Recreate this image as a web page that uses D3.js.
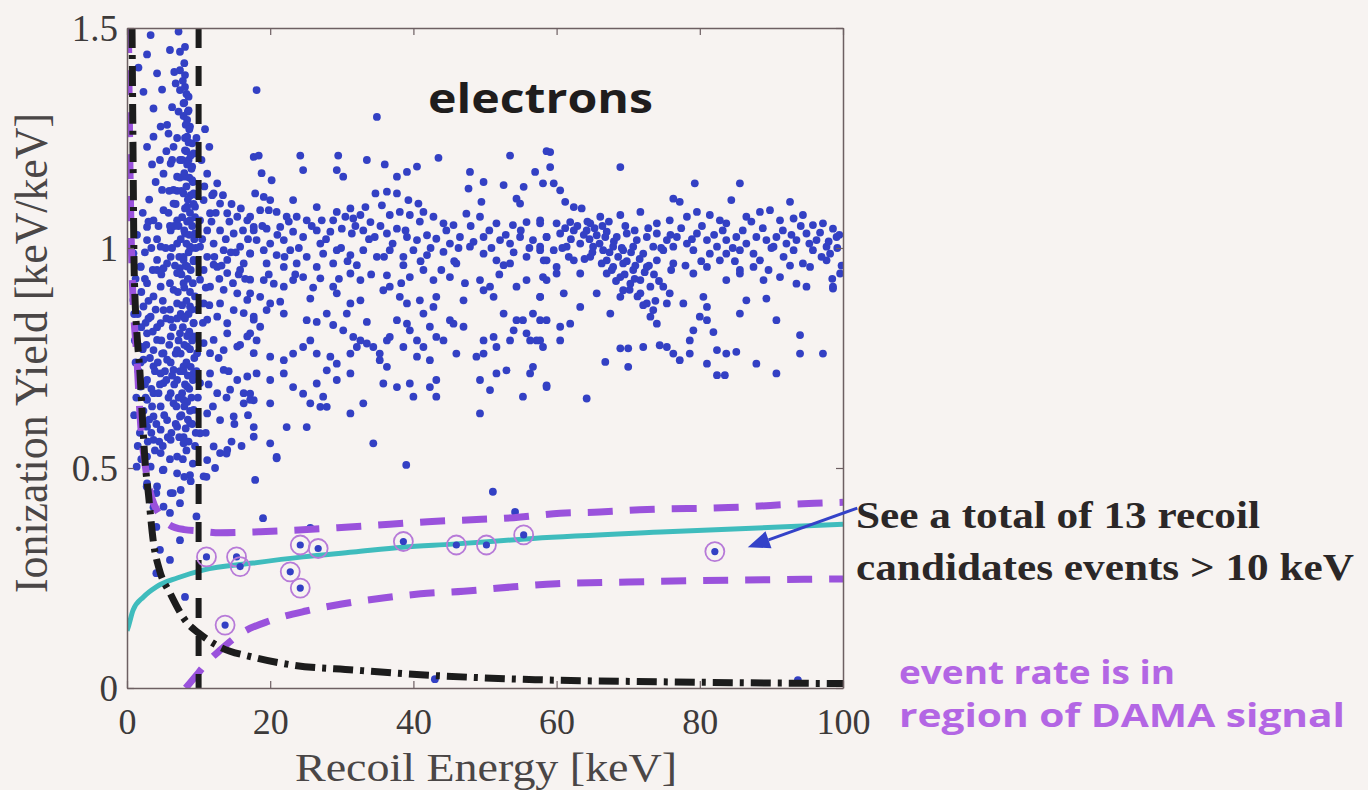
<!DOCTYPE html>
<html>
<head>
<meta charset="utf-8">
<script src="https://cdn.jsdelivr.net/npm/d3@7"></script>
<style>
  html, body { margin: 0; padding: 0; background: #f7f3f1; }
  svg { display: block; }
</style>
</head>
<body>
<svg id="chart" width="1368" height="790"></svg>
<script>
// ---- axis ticks ----
const xTicks = [0, 20, 40, 60, 80, 100];
const xTickLabels = ["0", "20", "40", "60", "80", "100"];
const yTicks = [0, 0.5, 1, 1.5];
const yTickLabels = ["0", "0.5", "1", "1.5"];

// ---- event scatter: [recoil energy keV, ionization yield keV/keV] ----
const leftEvents = [
  [3.3,1.484],[7.2,1.492],[7.4,1.446],[8.1,1.457],[4.2,1.397],[7.4,1.404],[8.1,1.393],[2.3,1.355],[6.8,1.374],[7.4,1.359],
  [8.1,1.366],[8.6,1.344],[3.7,1.317],[7.9,1.329],[8.6,1.313],[4.7,1.276],[8.4,1.291],[8.8,1.276],[5.8,1.26],[3.7,1.253],
  [2.8,1.23],[8.4,1.253],[9.1,1.238],[6.5,1.23],[8.1,1.222],[9.3,1.215],[6.1,1.192],[7.4,1.2],[8.6,1.2],[9.1,1.185],
  [11.2,1.169],[12.6,1.147],[5.1,1.169],[7,1.162],[8.1,1.162],[9.1,1.154],[4.9,1.132],[6.5,1.132],[7.9,1.124],[9.3,1.124],
  [12.1,1.124],[10.7,1.109],[6.5,1.101],[8.4,1.094],[9.5,1.094],[5.1,1.086],[13,1.101],[14,1.079],[11.6,1.079],[3.7,1.063],
  [7,1.063],[8.8,1.063],[10.2,1.063],[15.4,1.071],[16.8,1.063],[17.7,1.048],[2.8,1.048],[6.1,1.04],[8.1,1.033],[9.5,1.033],
  [11.2,1.04],[13,1.04],[14.9,1.033],[2.8,1.018],[4.7,1.003],[7,1.01],[8.8,1.003],[10.2,1.003],[12.1,1.01],[13.5,0.995],
  [15.8,1.003],[17.2,0.988],[0.9,0.988],[4.2,0.973],[6.1,0.98],[7.9,0.973],[9.3,0.973],[11.2,0.98],[14,0.973],[16.3,0.965],
  [1.9,0.957],[5.1,0.954],[7.4,0.954],[12.6,0.957],[17.7,1.207],
  [1.9,0.958],[4.2,0.95],[5.6,0.965],[7,0.943],[8.4,0.958],[10.7,0.95],[12.1,0.962],[14,0.943],[15.8,0.95],[17.2,0.928],
  [2.8,0.92],[4.7,0.912],[6.5,0.905],[7.9,0.92],[10.2,0.928],[11.6,0.912],[13.5,0.905],[15.4,0.897],[3.7,0.89],[0.9,0.882],
  [2.3,0.867],[5.1,0.859],[7,0.874],[8.8,0.867],[10.7,0.874],[13,0.874],[14.9,0.859],[16.8,0.882],[3.3,0.844],[4.7,0.829],
  [6.1,0.837],[7.9,0.844],[9.3,0.829],[11.2,0.837],[12.6,0.844],[14,0.829],[16.3,0.852],[17.7,0.837],[1.4,0.821],
  [2.8,0.806],[4.2,0.791],[6.1,0.799],[7.4,0.806],[9.3,0.799],[10.7,0.784],[12.1,0.791],[14,0.806],[15.4,0.776],[1.9,0.776],
  [3.7,0.768],[5.1,0.761],[7,0.768],[8.4,0.776],[9.8,0.761],[11.6,0.761],[13.5,0.768],[16.8,0.799],[17.7,0.761],[2.3,0.746],[5.6,0.746],
  [3.7,0.731],[4.7,0.715],[6.5,0.723],[7.9,0.731],[9.3,0.715],[11.6,0.715],[13.5,0.723],[15.4,0.7],[16.8,0.708],[2.8,0.7],
  [5.1,0.693],[7,0.7],[8.4,0.685],[10.2,0.693],[12.6,0.67],[14.4,0.678],[16.3,0.67],[3.7,0.67],[6.1,0.67],[1.9,0.685],
  [2.8,0.655],[4.7,0.64],[6.5,0.647],[7.9,0.655],[9.3,0.632],[11.2,0.624],[13,0.609],[14.9,0.617],[16.3,0.647],[3.7,0.617],
  [5.6,0.609],[7.4,0.617],[8.8,0.602],[2.8,0.594],[4.7,0.587],[7,0.594],[17.2,0.655],
  [3.7,0.564],[6.1,0.564],[7.9,0.556],[10.2,0.579],[12.1,0.549],[14,0.541],[4.7,0.534],[7,0.526],[2.8,0.526],[11.2,0.518],
  [13,0.534],[17.7,0.571],[3.3,0.503],[5.1,0.496],[7,0.488],[4.2,0.458],[6.1,0.443],[3.3,0.428],[5.1,0.412],[7.4,0.42],
  [10.7,0.481],[2.8,0.465],
  [1.2,0.93],[2.0,0.90],[3.0,0.88],[4.0,0.86],[5.5,0.84],[6.4,0.82],[1.5,0.85],[2.6,0.83],[3.6,0.81],[4.8,0.79],
  [5.9,0.78],[6.8,0.76],[1.1,0.79],[2.2,0.77],[3.2,0.75],[4.3,0.74],[5.3,0.72],[6.3,0.71],[1.6,0.72],[2.5,0.69],
  [3.4,0.68],[4.4,0.67],[5.8,0.66],[6.9,0.64],[1.3,0.66],[2.3,0.63],[3.1,0.61],[4.1,0.60],[5.2,0.62],[6.2,0.58],
  [7.3,0.57],[1.8,0.58],[2.9,0.56],[3.9,0.54],[5.0,0.55],[6.0,0.52],[1.4,1.03],[2.2,1.08],[3.1,1.11],[4.0,1.15],
  [4.6,1.20],[5.5,1.22],[3.5,1.19],[5.8,1.08],[6.6,1.05],[5.9,1.13],[4.4,1.05],[3.4,1.00],[2.5,0.99],[6.3,1.00],
  [6.8,1.10],[5.6,1.28],[6.3,1.32],[1.6,1.41],[4.9,1.36],[6.0,1.45],[2.8,1.44],
  [10.8,1.14],[11.9,1.12],[13.4,1.12],[14.6,1.10],[15.9,1.09],[12.4,1.08],[14.3,1.06],[16.2,1.04],[10.5,1.02],[11.8,1.06],
  [13.8,1.02],[15.2,0.99],[16.9,1.02],[12.9,0.93],[14.8,0.92],[16.5,0.93],[11.0,0.91],[10.4,1.20],[11.5,1.23],[10.9,1.27],
  [1.35,0.503],[5,0.495],[2.75,0.458],[4.1,0.443],[6.4,0.443],[3.7,0.411],[6,0.398],[9.7,0.39],[4.1,0.366],[7.4,0.336],
  [4.6,0.314],[6,0.291],[4.1,0.261],[8.1,0.207],[11.1,0.48],[8.8,0.484],
  [1.0,0.62],[1.5,0.55],[2.0,0.52],[2.4,0.60],[3.5,0.64],[4.6,0.69],[5.5,0.70],[6.6,0.69],[7.2,0.66],[6.8,0.60],
  [5.7,0.57],[4.5,0.56],[3.4,0.58],[2.6,0.66],[1.9,0.74],[2.7,0.78],[3.9,0.72],[4.9,0.76],[6.1,0.74],[7.2,0.79],
  [7.0,0.84],[6.0,0.86],[5.0,0.88],[4.2,0.82],[3.0,0.84],[2.0,0.82],[1.2,0.74],[1.0,0.85],[2.5,0.93],[3.6,0.95],
  [4.8,0.94],[6.0,0.92],[7.1,0.90],[6.7,0.96],[5.4,1.00],[4.2,1.02],[3.0,1.06],[6.0,1.05],[7.0,1.13],[6.3,1.20],
  [7.0,1.25],[7.2,1.31],[6.6,1.40],[9.6,1.00],[9.8,0.86],[9.7,0.72],[9.9,0.66],[9.6,0.58],[9.8,1.12],[9.7,1.25],
  [7.4,0.72],[7.5,0.85],[7.3,0.98],[7.2,1.05],[7.4,1.16],[9.5,0.55],[9.2,0.51],[8.9,0.47],[8.0,0.48],[7.5,0.45],
  [11.5,0.87],[12.2,0.98],[13.2,0.96],[14.5,0.99],[15.6,0.94],[11.4,0.69],[12.8,0.75],[14.2,0.72],[15.8,0.78],[12.0,0.64],
  [13.9,0.66],[15.0,0.60],[16.9,0.62],[11.0,0.58],[12.3,0.50],[14.6,0.56],[16.0,0.55],[10.6,0.83]
];

// dense column of events just below the 10 keV cut
const stripeEvents = [
  [8.0,1.42],[7.8,1.38],[8.3,1.35],[8.0,1.33],[8.5,1.31],[7.9,1.30],[8.2,1.28],[8.7,1.27],[8.1,1.25],[8.6,1.24],
  [8.3,1.22],[8.9,1.21],[7.7,1.20],[8.4,1.19],[9.0,1.18],[8.0,1.17],[8.7,1.16],[9.2,1.15],[8.3,1.14],[7.6,1.13],
  [8.9,1.12],[8.5,1.11],[9.3,1.10],[8.1,1.09],[8.8,1.08],[9.5,1.07],[7.7,1.07],[8.4,1.06],[9.1,1.05],[8.0,1.04],
  [8.7,1.03],[9.4,1.02],[7.5,1.02],[8.3,1.01],[9.0,1.00],[8.6,0.99],[7.9,0.98],[9.3,0.97],[8.2,0.96],[8.9,0.95],
  [7.6,0.94],[8.5,0.93],[9.2,0.92],[8.0,0.91],[8.8,0.90],[9.5,0.89],[8.3,0.88],[7.7,0.87],[9.0,0.86],[8.6,0.85],
  [8.1,0.84],[9.3,0.83],[7.8,0.82],[8.7,0.81],[8.4,0.80],[9.1,0.79],[8.0,0.78],[8.8,0.77],[7.5,0.76],[9.4,0.75],
  [8.3,0.74],[8.9,0.73],[7.9,0.72],[8.5,0.71],[9.2,0.70],[8.1,0.69],[8.7,0.68],[7.7,0.67],[9.0,0.66],[8.4,0.65],
  [8.0,0.64],[8.8,0.63],[7.6,0.62],[8.5,0.61],[9.1,0.60],[8.2,0.59],[7.9,0.57],[8.6,0.56],[8.3,0.54],[7.8,0.52]
];

const midEvents = [
  [18.4,1.21],[24.2,1.21],[29.5,1.21],[33.5,1.2],[36.0,1.19],[43.5,1.205],[53.5,1.21],[58.6,1.22],
  [24.6,1.177],[29.3,1.177],[30.2,1.162],[37.7,1.162],[39.1,1.173],[40.5,1.185],[47.9,1.173],[57,1.173],[18.8,1.17],[20.2,1.154],
  [49.8,1.15],[52.6,1.143],[55.4,1.139],[58.1,1.147],[47.7,1.135],[17.9,1.124],[19.1,1.116],[20,1.109],
  [34.7,1.124],[36.3,1.128],[37.7,1.124],[23.2,1.109],[39.3,1.109],[40.7,1.101],[49.5,1.105],[54.4,1.112],[54.9,1.101],
  [26.5,1.093],[29.3,1.082],[31.2,1.09],[33.3,1.093],[35.6,1.097],
  [17.2,1.071],[18.6,1.086],[19.8,1.086],[20.9,1.082],[22.3,1.071],[23.7,1.071],[25.1,1.063],[27.2,1.063],[28.8,1.063],
  [30.5,1.071],[31.6,1.067],[32.6,1.075],[34,1.059],[36.7,1.075],[38.1,1.082],[39.5,1.075],[41.4,1.082],[42.8,1.071],
  [44.2,1.056],[45.6,1.052],[47.4,1.078],[49.3,1.071],[51.6,1.056],[53.9,1.052],[55.8,1.059],[57.7,1.063],
  [17.7,1.04],[19.5,1.044],[21.4,1.048],[23.2,1.037],[24.6,1.025],[26.5,1.04],[28.4,1.037],[30,1.044],[31.4,1.033],
  [33,1.04],[34.6,1.025],[36.3,1.033],[37.7,1.044],[39.1,1.025],[40.5,1.018],[41.9,1.029],[43.2,1.021],[45.1,1.01],
  [46.5,1.025],[48.4,1.014],[49.8,1.025],[52.1,1.018],[53.5,1.01],[54.9,1.025],[56.7,1.018],[58.6,1.025],[18.1,1.018],
  [20,1.01],[21.9,1.018],
  [17.2,0.987],[19.1,0.995],[20.9,0.984],[22.8,0.995],[25.1,0.98],[27.4,0.987],[29.3,0.995],[31.2,0.984],[33,0.995],
  [34.9,0.98],[36.7,0.995],[38.6,0.98],[40,0.995],[41.9,0.984],[44.2,0.991],[46,0.965],[47.9,1.003],[49.8,0.987],
  [51.6,0.972],[52.6,0.961],[53.5,0.965],[55.8,0.98],[57.7,0.995],[58.6,0.972],[19.5,0.965],[21.9,0.957],[23.7,0.965],
  [26.5,0.957],[28.8,0.965],[32.1,0.961],[38.6,0.961],
  [19.1,0.927],[20.5,0.919],[21.9,0.912],[23.2,0.927],[24.6,0.934],[27,0.931],[28.8,0.912],[31.2,0.942],[32.6,0.927],
  [36.3,0.938],[36.7,0.912],[39.5,0.934],[41.4,0.95],[42.8,0.927],[45.1,0.934],[49.3,0.927],[50.7,0.912],[54.4,0.912],
  [55.8,0.927],[58.1,0.934],[57.7,0.889],[17.2,0.897],[18.6,0.889],[20,0.874],[21.4,0.878],
  [25.6,0.885],[29.3,0.897],[31.2,0.874],[32.6,0.881],[35.8,0.904],[38.1,0.889],[39.1,0.874],[40.9,0.881],[43.2,0.889],
  [47,0.881],[49.8,0.904],[51.2,0.889],[41.4,0.851],[42.8,0.866],[45.1,0.836],[37.7,0.836],[39.1,0.828],[33.5,0.832],
  [30.7,0.851],[27.9,0.851],[26.5,0.832],[25.1,0.836],[17.7,0.844],[19.5,0.859],[21.9,0.851],[54.4,0.836],[56.7,0.851],
  [57.7,0.836],[52.6,0.851],[55.8,0.806],[57.2,0.79],
  [28.8,0.825],[30.2,0.813],[31.6,0.798],[32.6,0.79],[33.5,0.783],[34.4,0.775],[35.3,0.76],[36.3,0.79],[36.7,0.798],
  [35.3,0.745],[36.3,0.73],[31.2,0.76],[32.1,0.775],[28.4,0.753],[29.3,0.737],[27.9,0.722],[26.5,0.76],[25.6,0.79],
  [24.6,0.775],[23.2,0.76],[21.9,0.745],[20,0.753],[18.1,0.79],[17.2,0.806],[18.6,0.821],[39.5,0.813],[40.5,0.79],
  [41.4,0.775],[42.3,0.821],[43.2,0.798],[44.2,0.79],[45.6,0.828],[47,0.821],[40.5,0.753],[42.3,0.745],[38.6,0.775],
  [49.8,0.79],[51.2,0.798],[51.6,0.775],[49.8,0.76],[48.8,0.753],[53.5,0.79],[54,0.813],[55.3,0.836],[56.3,0.79],
  [58.1,0.775],[46,0.76],
  [18.1,0.715],[20,0.7],[21.9,0.715],[23.2,0.684],[24.6,0.669],[26.5,0.692],[27.4,0.662],[29.3,0.7],[31.2,0.715],
  [35.8,0.692],[37.7,0.684],[39.5,0.692],[40,0.662],[42.3,0.684],[43.2,0.7],[43.2,0.662],[49.3,0.7],[50.7,0.677],
  [51.6,0.715],[53,0.722],[56.3,0.715],[56.7,0.73],[17.7,0.654],[20,0.647],[25.6,0.647],[27,0.639],[27.9,0.639],
  [31.2,0.624],[33,0.647],[49.3,0.624],[55.3,0.662],[58.6,0.684],[17.2,0.669],
  [17.7,0.593],[22.3,0.593],[25.1,0.593],[20,0.556],[34.4,0.556],[20.9,0.525],
  [18.9,1.05],[21.0,1.03],[22.6,1.06],[24.0,1.0],[25.8,1.05],[27.8,1.02],[29.9,1.0],[31.9,1.05],[33.8,1.02],[35.4,1.05],
  [37.1,1.01],[38.9,1.04],[40.9,1.06],[42.4,1.0],[44.6,1.04],[46.3,1.0],[48.0,1.05],[50.6,1.04],[52.9,1.03],[55.0,1.04],
  [56.2,1.0],[19.8,0.94],[23.5,0.94],[26.0,0.91],[29.6,0.93],[34.1,0.94],[38.3,0.92],[43.9,0.95],[47.2,0.92],[52.0,0.94],
  [22.0,0.98],[27.0,1.01],[35.9,0.98],[41.0,0.97],[45.7,0.97],[50.9,1.0],[54.0,0.99],[30.8,0.97]
];

const rightEvents = [
  [59.1,1.218],[59.1,1.184],[68.9,1.184],[59.6,1.147],[79.3,1.147],[85.6,1.147],[60.5,1.131],[76.3,1.112],[77.2,1.105],
  [84.4,1.109],[92.6,1.105],[61.2,1.105],
  [62.4,1.093],[63.5,1.09],[66.1,1.071],[68.9,1.075],[71.7,1.082],[74,1.056],[75.8,1.063],[78.2,1.071],[79.6,1.082],
  [81.4,1.075],[82.8,1.063],[83.7,1.056],[86.5,1.071],[88.4,1.082],[89.8,1.086],[91.2,1.063],[93.1,1.067],[94.4,1.075],
  [95.8,1.052],[97.2,1.056],[98.6,1.044],[57.7,1.056],[60,1.056],[61.9,1.059],[64.7,1.056],
  [58.6,1.025],[60.5,1.033],[62.4,1.04],[64.2,1.04],[65.6,1.029],[67,1.037],[68.4,1.025],[69.8,1.033],[71.2,1.018],
  [72.6,1.025],[74,1.033],[75.4,1.018],[76.8,1.025],[78.2,1.01],[79.6,1.033],[81,1.018],[82.4,1.003],[83.7,1.018],
  [85.1,1.025],[86.5,1.01],[87.9,1.025],[89.3,1.018],[90.7,1.025],[92.1,1.01],[93.5,1.018],[94.9,1.033],[96.3,1.018],
  [97.7,1.003],[99.1,1.025],[57.7,1.003],[59.6,0.995],[61.4,1.003],[63.3,1.01],[65.1,1.003],[66.5,0.995],[67.9,1.003],
  [69.3,0.995],[70.7,1.003],[72.1,0.987],[73.5,1.003],[74.9,0.995],[76.3,1.003],[79.1,0.995],[81.4,0.987],[83.7,0.987],
  [85.6,0.995],[87.5,0.987],[90.3,1.003],[93.1,0.995],[95.8,0.995],[98.2,0.987],
  [58.2,0.972],[60,0.957],[62.4,0.972],[64.7,0.98],[67,0.972],[67.9,0.957],[69.3,0.965],[70.7,0.95],[72.6,0.957],
  [74,0.972],[76.3,0.965],[79.1,0.942],[81,0.957],[82.8,0.972],[85.6,0.95],[87.5,0.957],[88.4,0.972],[91.7,0.98],
  [94.4,0.965],[95.4,0.957],[97.7,0.972],[99.6,0.942],[58.6,0.927],[63.3,0.942],[67,0.942],[68.9,0.934],[70.3,0.919],
  [71.7,0.927],[73.1,0.912],[74.9,0.912],[83.7,0.927],[85.6,0.942],[88.9,0.927],[91.2,0.934],[93.5,0.919],[94.9,0.912],
  [98.6,0.912],[60,0.942],
  [57.7,0.889],[61,0.897],[63.3,0.866],[65.6,0.897],[67.5,0.851],[69.3,0.904],[68.9,0.889],[71.7,0.897],[72.6,0.874],
  [73.5,0.859],[73.1,0.844],[74,0.828],[75.8,0.897],[75.4,0.874],[77.7,0.874],[80.5,0.889],[81,0.866],[80,0.844],
  [81,0.836],[86.5,0.881],[89.3,0.885],[85.6,0.851],[90.7,0.836],[98.6,0.908],[60.5,0.821],[61.9,0.828],[58.6,0.836],
  [79.1,0.813],[81.9,0.809],[78.6,0.79],[68.9,0.772],[70,0.772],[72.1,0.775],[74.4,0.779],[75.4,0.775],[76.3,0.76],
  [77.2,0.745],[78.6,0.76],[82.4,0.768],[83.7,0.76],[85.1,0.764],[81,0.737],[82.4,0.711],[83.5,0.711],[87.9,0.737],
  [90.7,0.715],[94,0.802],[94,0.76],[97.2,0.76],[66.8,0.741],[70,0.73],[58.6,0.688],[64.2,0.658],[57.7,0.79],[60.5,0.79],
  [99.5,1.03],[99.8,0.96],[99.2,1.0],[98.5,0.93],
  [62.9,1.05],[63.8,1.03],[64.6,1.02],[65.3,1.045],[66.0,1.01],[66.8,1.025],[67.4,0.99],[68.0,1.015],[68.6,0.98],[69.1,1.0],
  [69.8,0.97],[70.4,0.99],[71.0,0.96],[71.6,0.975],[72.3,0.945],[66.3,0.965],[67.7,0.95],[68.3,0.925],[69.5,0.94],[70.9,0.93],
  [72.9,0.96],[73.6,0.94],[74.3,0.925],[65.0,0.99],[63.9,0.975],[64.3,1.06],[66.4,1.05],[67.3,1.06],[62.0,1.02],[61.2,1.045],
  [60.8,1.0],[61.7,0.98],[70.2,0.905],[71.3,0.89],[72.1,0.87],[73.8,0.88],[69.6,1.05],[70.9,1.04],[72.8,1.045],[74.6,1.0],
  [75.9,1.03],[77.4,1.045],[78.9,1.02],[80.3,1.05],[82.0,1.03],[83.2,1.04],[84.6,1.0],[86.0,1.04],[87.2,1.06],[88.8,1.045],
  [90.0,1.0],[91.6,1.04],[92.8,1.03],[94.1,1.05],[95.3,1.01],[96.8,1.035],[98.0,1.015],[97.0,0.98],[92.6,0.96],[89.6,0.95],
  [84.9,0.97],[80.2,0.97],[78.0,0.96],[76.0,0.95]
];

const sparseEvents = [
  [18.1,1.359],[34.9,1.298],[43,0.02],[93.7,0.018],[39,0.507],[51.1,0.446],[54.2,0.4],[25.6,0.364],
  [19,0.386],[20.9,0.522],[17.9,0.473],[13.9,0.533]
];

// nuclear-recoil candidates above 10 keV
const candidateEvents = [
  [11.1,0.298],[15.3,0.298],[15.8,0.276],[22.8,0.264],[24.2,0.227],[24.2,0.325],[26.7,0.317],
  [38.6,0.333],[46.0,0.325],[50.2,0.325],[55.4,0.348],[13.7,0.143],[82.1,0.31]
];

// ---- reference curves ----
const recoilCentroid = [
  [0,0.13],[0.2,0.14],[0.85,0.177],[2.3,0.207],[4.1,0.23],[7,0.25],[10.6,0.268],[17.6,0.284],[24.6,0.298],
  [31.6,0.309],[38.5,0.32],[45.5,0.327],[56.7,0.34],[75.4,0.355],[100,0.372]
];
const bandUpper = [
  [0.2,1.5],[0.4,1.2],[0.7,0.95],[1.4,0.745],[1.9,0.6],[2.6,0.5],[3.5,0.43],[4.5,0.395],[6,0.37],[8,0.36],
  [10,0.357],[13,0.353],[18.6,0.355],[24,0.359],[31,0.366],[36.7,0.372],[42,0.378],[47.5,0.382],[54,0.387],
  [60.5,0.397],[66,0.4],[71.6,0.405],[84,0.41],[96,0.42],[100,0.422]
];
const bandLower = [
  [8.2,0],[10,0.035],[11,0.055],[13,0.086],[16,0.125],[20,0.153],[25,0.175],[30,0.191],[36,0.205],[41,0.214],
  [47,0.22],[54,0.23],[60,0.237],[70,0.241],[80,0.244],[90,0.246],[100,0.248]
];
const thresholdCurve = [
  [0.7,1.5],[0.8,1.3],[0.9,1.1],[1.0,0.95],[1.5,0.78],[1.8,0.72],[2.1,0.63],[2.5,0.52],[3.0,0.44],[3.7,0.33],
  [4.5,0.27],[6,0.216],[8.4,0.148],[10,0.125],[13,0.093],[17.6,0.07],[23.2,0.052],[31.6,0.041],[41,0.03],
  [50,0.023],[57,0.019],[75,0.014],[100,0.01]
];
const energyCut = 10;
const arrowFrom = [102, 0.409];
const arrowTo = [86.7, 0.32];

// ---- layout ----
const W = 1368, H = 790;
const plot = { left: 127, right: 843, top: 28, bottom: 688 };
const frameColor = "#6d5f62";
const tickColor = "#3d3a3a";
const dotColor = "#3340c4";

const x = d3.scaleLinear().domain([0, 100]).range([plot.left, plot.right]);
const y = d3.scaleLinear().domain([0, 1.5]).range([plot.bottom, plot.top]);

const svg = d3.select("#chart");
svg.append("rect").attr("width", W).attr("height", H).attr("fill", "#f7f3f1");

svg.append("defs").append("clipPath").attr("id", "plotClip")
  .append("rect")
  .attr("x", plot.left).attr("y", plot.top)
  .attr("width", plot.right - plot.left).attr("height", plot.bottom - plot.top);

const inner = svg.append("g").attr("clip-path", "url(#plotClip)");

// scatter of all events
const allEvents = [].concat(leftEvents, stripeEvents, midEvents, rightEvents, sparseEvents);
inner.append("g").selectAll("circle").data(allEvents).join("circle")
  .attr("cx", d => x(d[0])).attr("cy", d => y(d[1]))
  .attr("r", 3.9).attr("fill", dotColor);

const line = d3.line().x(d => x(d[0])).y(d => y(d[1])).curve(d3.curveMonotoneX);

// nuclear-recoil centroid
inner.append("path").attr("d", line(recoilCentroid))
  .attr("fill", "none").attr("stroke", "#3fbcbd").attr("stroke-width", 5);

// acceptance band
[bandUpper, bandLower].forEach(b => {
  inner.append("path").attr("d", line(b))
    .attr("fill", "none").attr("stroke", "#9a52dc").attr("stroke-width", 7)
    .attr("stroke-dasharray", "25 17");
});

// 10 keV energy cut
inner.append("line")
  .attr("x1", x(energyCut)).attr("x2", x(energyCut))
  .attr("y1", y(1.5)).attr("y2", y(0))
  .attr("stroke", "#1c1c1c").attr("stroke-width", 6).attr("stroke-dasharray", "20 18");

// ionization threshold
inner.append("path").attr("d", line(thresholdCurve))
  .attr("fill", "none").attr("stroke", "#1c1c1c").attr("stroke-width", 7)
  .attr("stroke-dasharray", "20 7 4 7");

// candidates: dot with a ring
const cand = inner.append("g").selectAll("g").data(candidateEvents).join("g")
  .attr("transform", d => `translate(${x(d[0])},${y(d[1])})`);
cand.append("circle").attr("r", 9.5).attr("fill", "none")
  .attr("stroke", "#b77ad8").attr("stroke-width", 1.8);
cand.append("circle").attr("r", 3.6).attr("fill", dotColor);

// ---- axes (boxed, inward ticks) ----
function styleAxis(sel) {
  sel.attr("font-family", "'Liberation Serif', 'Times New Roman', serif")
     .attr("font-size", 37);
  sel.select(".domain").attr("stroke", frameColor).attr("stroke-width", 1.5);
  sel.selectAll(".tick line").attr("stroke", frameColor).attr("stroke-width", 1.2);
  sel.selectAll(".tick text").attr("fill", tickColor);
}

const axB = svg.append("g").attr("transform", `translate(0,${plot.bottom})`)
  .call(d3.axisBottom(x).tickValues(xTicks).tickSizeInner(-7).tickSizeOuter(0)
    .tickFormat((d, i) => xTickLabels[i]));
styleAxis(axB);
axB.selectAll(".tick text").attr("font-size", 36).attr("y", 46).attr("dy", null);

const axT = svg.append("g").attr("transform", `translate(0,${plot.top})`)
  .call(d3.axisTop(x).tickValues(xTicks).tickSizeInner(-7).tickSizeOuter(0).tickFormat(() => ""));
styleAxis(axT);

const axL = svg.append("g").attr("transform", `translate(${plot.left},0)`)
  .call(d3.axisLeft(y).tickValues(yTicks).tickSizeInner(-7).tickSizeOuter(0)
    .tickFormat((d, i) => yTickLabels[i]));
styleAxis(axL);
axL.selectAll(".tick text").attr("x", -9).attr("dy", "0.35em");

const axR = svg.append("g").attr("transform", `translate(${plot.right},0)`)
  .call(d3.axisRight(y).tickValues(yTicks).tickSizeInner(-7).tickSizeOuter(0).tickFormat(() => ""));
styleAxis(axR);

// axis titles
svg.append("text")
  .attr("x", 295).attr("y", 781)
  .attr("textLength", 382).attr("lengthAdjust", "spacingAndGlyphs")
  .attr("font-family", "'Liberation Serif', 'Times New Roman', serif")
  .attr("font-size", 40).attr("fill", "#4a4646")
  .text("Recoil Energy [keV]");

svg.append("text")
  .attr("transform", "translate(47,353) rotate(-90)")
  .attr("text-anchor", "middle")
  .attr("textLength", 480).attr("lengthAdjust", "spacingAndGlyphs")
  .attr("font-family", "'Liberation Serif', 'Times New Roman', serif")
  .attr("font-size", 46).attr("fill", "#4a4646")
  .text("Ionization Yield [keV/keV]");

// panel title
svg.append("text")
  .attr("x", 428).attr("y", 113)
  .attr("textLength", 225).attr("lengthAdjust", "spacingAndGlyphs")
  .attr("font-family", "'Open Sans', sans-serif").attr("font-weight", 700)
  .attr("font-size", 42).attr("fill", "#1f1d1d")
  .text("electrons");

// annotation arrow
const ax0 = x(arrowFrom[0]), ay0 = y(arrowFrom[1]);
const ax1 = x(arrowTo[0]), ay1 = y(arrowTo[1]);
const len = Math.hypot(ax1 - ax0, ay1 - ay0);
const ux = (ax1 - ax0) / len, uy = (ay1 - ay0) / len;
const headL = 22, headW = 9;
const bx = ax1 - ux * headL, by = ay1 - uy * headL;
svg.append("line")
  .attr("x1", ax0).attr("y1", ay0).attr("x2", bx).attr("y2", by)
  .attr("stroke", "#3442c8").attr("stroke-width", 3);
svg.append("path")
  .attr("d", `M${ax1},${ay1}L${bx - uy * headW},${by + ux * headW}L${bx + uy * headW},${by - ux * headW}Z`)
  .attr("fill", "#3442c8");

// annotation text
const note = [
  { t: "See a total of 13 recoil", x: 856, y: 528, w: 404 },
  { t: "candidates events > 10 keV", x: 856, y: 580, w: 498 }
];
svg.selectAll("text.note").data(note).join("text").attr("class", "note")
  .attr("x", d => d.x).attr("y", d => d.y)
  .attr("textLength", d => d.w).attr("lengthAdjust", "spacingAndGlyphs")
  .attr("font-family", "'Liberation Serif', 'Times New Roman', serif")
  .attr("font-weight", 700).attr("font-size", 38).attr("fill", "#2b2727")
  .text(d => d.t);

const dama = [
  { t: "event rate is in", x: 899, y: 684, w: 276 },
  { t: "region of DAMA signal", x: 899, y: 727, w: 446 }
];
svg.selectAll("text.dama").data(dama).join("text").attr("class", "dama")
  .attr("x", d => d.x).attr("y", d => d.y)
  .attr("textLength", d => d.w).attr("lengthAdjust", "spacingAndGlyphs")
  .attr("font-family", "'Open Sans', sans-serif")
  .attr("font-weight", 700).attr("font-size", 32).attr("fill", "#b366e4")
  .text(d => d.t);
</script>
</body>
</html>
